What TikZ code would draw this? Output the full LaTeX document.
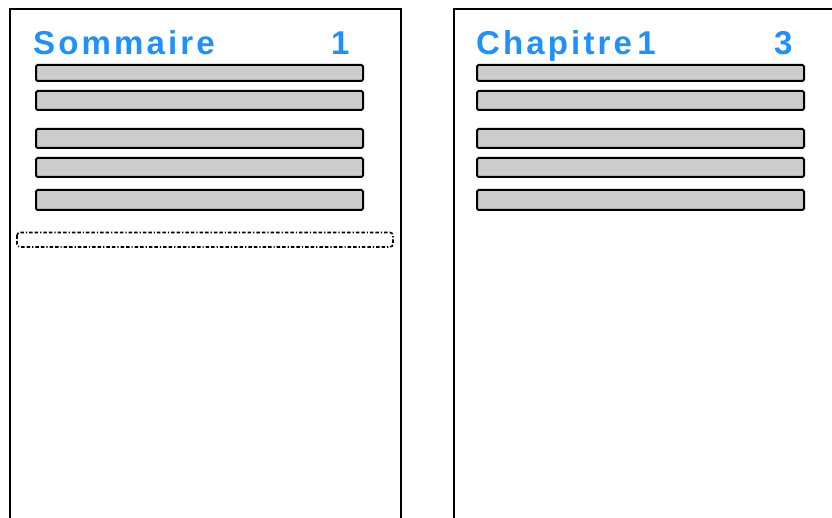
\documentclass[tikz,border=0pt]{standalone}
\usepackage{fontspec}
\setmainfont{Liberation Sans}
\newfontfamily\titlefont[LetterSpace=9.5]{Liberation Sans Bold}
\definecolor{titleblue}{RGB}{30,144,255}
\definecolor{barfill}{RGB}{204,204,204}
\begin{document}
\begin{tikzpicture}[x=1pt,y=-1pt,
  pageline/.style={draw=black,line width=2pt},
  barbox/.style={draw=black,fill=barfill,line width=2pt,rounded corners=1.5pt},
  titletext/.style={text=titleblue,font=\titlefont\fontsize{33}{33}\selectfont,inner sep=0pt,anchor=base west},
  ghostbox/.style={draw=black,line width=1.6pt,dash pattern=on 3.5pt off 2pt on 3.5pt off 2pt on 1.2pt off 2pt,rounded corners=3pt}]
\useasboundingbox (0,0) rectangle (832,518);
% pages
\coordinate (p1tl) at (10,9);
\coordinate (p1tr) at (400.5,9);
\coordinate (p1bl) at (10,530);
\coordinate (p1br) at (400.5,530);
\draw[pageline] (p1bl) -- (p1tl) -- (p1tr) -- (p1br);
\coordinate (p2tl) at (453.5,9);
\coordinate (p2tr) at (845,9);
\coordinate (p2bl) at (453.5,530);
\draw[pageline] (p2bl) -- (p2tl) -- (p2tr);
% titles
\node[titletext] (t1) at (33,55) {Sommaire};
\node[titletext] (n1) at (331,55) {1};
\node[titletext] (t2) at (476,55) {Chapitre\hspace{-7pt} 1};
\node[titletext] (n2) at (774,55) {3};
% bars
\foreach \i/\ya/\yb in {1/65/81,2/91/110,3/129/148,4/158/177,5/190/210}{
  \path[barbox] (36,\ya) rectangle (363,\yb);
  \path[barbox] (477,\ya) rectangle (804,\yb);
}
% dashed ghost box
\path[ghostbox] (17,232.5) rectangle (393,247);
\end{tikzpicture}
\end{document}
